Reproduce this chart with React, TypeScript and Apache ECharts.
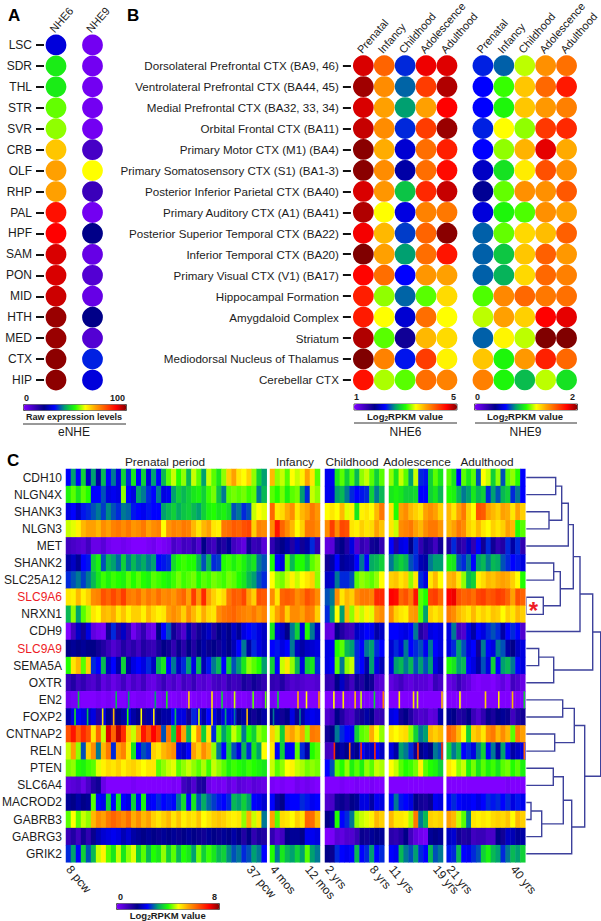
import React, { useEffect, useRef } from "react";
import * as echarts from "echarts";

const FONT = "Liberation Sans";
const INK = "#1c1c1c";

// Shared colour scale of the four colour bars (equal steps from low to high)
const scaleColors = ["#8000ff", "#4000c0", "#000088", "#0000ff", "#00a070", "#20ff00", "#ffff00", "#ffa000", "#ff5000", "#ff0000", "#800000"];

// Panel A
const aRegions = ["LSC", "SDR", "THL", "STR", "SVR", "CRB", "OLF", "RHP", "PAL", "HPF", "SAM", "PON", "MID", "HTH", "MED", "CTX", "HIP"];
const aColumns = ["NHE6", "NHE9"];
const aNhe6 = [27, 48, 48, 53, 55, 66, 70, 70, 88, 90, 93, 93, 94, 98, 98, 99, 99];
const aNhe9 = [2, 2, 2, 2, 2, 9, 60, 11, 2, 20, 4, 7, 4, 20, 7, 32, 27];

// Panel B
const bRegions = [
  "Dorsolateral Prefrontal CTX (BA9, 46)", "Ventrolateral Prefrontal CTX (BA44, 45)", "Medial Prefrontal CTX (BA32, 33, 34)",
  "Orbital Frontal CTX (BA11)", "Primary Motor CTX (M1) (BA4)", "Primary Somatosensory CTX (S1) (BA1-3)",
  "Posterior Inferior Parietal CTX (BA40)", "Primary Auditory CTX (A1) (BA41)", "Posterior Superior Temporal CTX (BA22)",
  "Inferior Temporal CTX (BA20)", "Primary Visual CTX (V1) (BA17)", "Hippocampal Formation", "Amygdaloid Complex",
  "Striatum", "Mediodorsal Nucleus of Thalamus", "Cerebellar CTX",
];
const bStages = ["Prenatal", "Infancy", "Childhood", "Adolescence", "Adulthood"];
const bNhe6 = [
  [4.72, 4.1, 2.3, 4.65, 4.7], [4.9, 3.9, 2.45, 4.3, 4.85], [4.72, 3.8, 2.6, 3.8, 4.6], [4.78, 3.9, 2.3, 4.3, 4.92],
  [4.97, 3.75, 2.05, 4.05, 4.45], [4.97, 3.9, 1.9, 4.05, 4.55], [4.72, 3.85, 2.75, 4.4, 4.78], [4.85, 3.4, 2.1, 3.95, 4.0],
  [4.63, 3.7, 2.35, 4.1, 4.97], [5, 3.8, 2.6, 4.05, 4.5], [4.58, 4.05, 2.2, 3.85, 3.8], [4.45, 3.2, 2.45, 3.1, 3.55],
  [4.47, 3.4, 2.05, 4.05, 3.4], [4.85, 3.1, 1.7, 3.7, 3.55], [5, 3.95, 2.25, 4.3, 3.45], [4.52, 3.25, 3.1, 4.05, 3.95],
];
const bNhe9 = [
  [0.64, 0.72, 1.14, 1.44, 1.52], [0.6, 1.02, 1.32, 1.54, 1.74], [0.6, 0.98, 1.32, 1.42, 1.48], [0.64, 1.2, 1.1, 1.66, 1.7],
  [0.6, 1.1, 1.36, 1.84, 1.38], [0.5, 0.94, 1.24, 1.6, 1.44], [0.42, 1.06, 1.44, 1.44, 1.58], [0.54, 0.98, 1.04, 1.44, 1.4],
  [0.72, 1.06, 1.28, 1.34, 1.56], [0.72, 0.88, 1.32, 1.56, 1.42], [0.72, 0.84, 1.28, 1.54, 1.48], [1.04, 1.46, 1.54, 1.5, 1.52],
  [1.14, 1.4, 1.3, 1.8, 1.84], [0.72, 1.22, 1.14, 2, 2], [1.32, 0.98, 1.42, 1.72, 1.54], [1.48, 0.98, 0.86, 1.14, 0.94],
];

// Panel C: one array per gene; columns run through the five periods in order
const periodNames = ["Prenatal period", "Infancy", "Childhood", "Adolescence", "Adulthood"];
const periodColumns = [40, 10, 12, 11, 16];
const periodTicks: Record<number, string>[] = [
  { 0: "8 pcw", 36: "37 pcw" }, { 0: "4 mos", 7: "12 mos" }, { 0: "2 yrs", 9: "8 yrs" }, { 0: "11 yrs", 9: "19 yrs" }, { 0: "21 yrs", 13: "40 yrs" },
];
const CDH10 = [2.4,3.2,2.4,3.6,2,3.2,1.8,3.4,2.4,3,2.2,3.6,2.6,3.8,2.4,3.6,2.2,3.2,2.4,3.4,4.2,4.6,4,4.4,3.4,4.6,4.2,3.2,4.6,4.2,3.8,4.4,5.2,5.6,5,4.8,5.2,4.4,3.6,3.2, 5.4,4.4,4.6,4.2,4.8,4.6,4.9,5.6,5,4.2, 2.3,2.3,3.8,4.2,3.6,4.2,3.4,4.4,4.6,4.2,3.6,4.2, 4.4,3.8,4.6,4.2,3.2,4.6,2.6,2.5,3.6,4.2,3.8, 4.2,3.8,2.4,4.2,3.8,4.2,2.8,4.8,4.6,3.6,4.4,2.8,4.2,4.4,4,2.4];
const NLGN4X = [3.9,4.2,3.8,4.2,4,2.4,2.4,2.8,2.2,2.3,2.2,4.4,2.4,2.2,3.2,3,2.6,2.4,3,2.2,2.3,3.2,3.6,3.4,3.6,3.8,3.9,3.6,4.1,4.3,3.5,3,4.2,4.3,4.2,4.3,4.1,4.2,3,3.4, 4.2,4,4.3,3.9,4.2,4.3,3.2,2.6,4.6,4.4, 2.3,2.2,3.2,3.4,3,2.6,2.4,2.5,2.6,3.6,3,3.4, 3.8,3.9,3.8,3.6,3.6,3.7,2.4,2.4,3.6,3.8,3.4, 4,3.9,3.4,3,3.2,3.8,3.4,3.6,2.6,3.2,2.8,3.4,3.6,2.6,3,2.4];
const SHANK3 = [2.2,2.4,2,2.5,2.6,2.8,3,2.7,3.1,2.8,2.6,3,2.9,2.5,2.4,2.3,2.5,2.4,2.4,3.2,3.4,3.6,3.3,3.5,3.6,3.4,3.2,3.6,3.9,4,3.8,3.9,3.7,2.8,3,2.6,2.8,4.6,4.8,4.7, 6.2,5,5.1,5.5,5.8,5,5.4,5.6,6,5.7, 4.8,5,4.8,5.4,4.7,4.9,3.8,4.9,5,4.8,5.4,6, 5,4,5.6,5.8,5.4,5.2,5,5.6,5.8,5.6,5.2, 5.4,5,5.6,6,5.2,4.8,6.4,6.3,5.6,5.4,5.2,5.6,5.5,5,5.6,5.2];
const NLGN3 = [4.6,4.7,4.9,5.4,5.6,5.6,5.4,5.8,5.6,5.9,6,5.8,6,5.7,5.8,6,5.6,5.8,5.9,4.8,5.7,5.9,5.8,6,5.9,5.4,5,5.4,5.6,5,4.9,6,6.1,6.3,6.2,6.4,6.5,5.2,5.9,5.8, 5.8,7,6.2,5.8,5.4,4.8,5.2,6,6,5.8, 5.8,6.6,5.8,6.5,6.4,5,4.9,5.2,5,5.1,5.6,5.3, 5,4.6,5.8,5.9,6,5.6,5.4,5.8,6,6,5.7, 5.4,5.6,6,5.8,5.2,5,5.4,5,4.8,5.2,5,5.2,5.6,5.4,4,4.2];
const MET = [0.8,0.7,0.6,0.5,0.8,0.3,0.3,0.5,0.2,0.1,0.1,0.2,0.1,0,0,0,0.1,0.2,0,0.1,0.2,0.7,0.5,0.8,0.7,1,0.6,1.6,1,0.8,1.4,1.2,1.7,0.8,0.6,0.4,1.4,0.9,1,0.5, 1,1.4,1.6,1.8,1.2,2,1.4,1.8,2.6,1, 0.4,0.5,1.4,1.6,1.2,2.2,0.6,1,0.8,1.4,1.5,1, 2.4,1.2,2.2,2.3,1.6,2.6,1,1.4,1.2,0.8,1.4, 1.2,2.6,1.2,1,2,1,2.4,1.4,2.6,1.4,1,1.2,2.6,1.8,2.6,1];
const SHANK2 = [1.8,2,1.7,2.4,2.5,3.6,3.9,2.8,3.4,3.2,2.9,3.6,3,3.4,3.1,3.3,3,3.2,2.4,2.5,2.6,3.7,4,4.1,4,4,3.4,2.8,3.4,2.6,2.7,4,4.1,3.9,4.1,3.9,3.6,3.8,3,2.8, 4,2.4,2.2,4.2,3.4,4,4,3.6,4.2,4.4, 1.4,1.8,2.4,1.7,1.8,1.9,2.4,3,2.4,3.3,3.4,3.6, 3,3.4,3.6,3.4,2.8,2.6,1.9,1.8,3,3.2,3.2, 3.9,3.8,2.8,2.6,3,2.4,3.2,3.4,3,3.4,3.3,2.8,2.6,2.4,2.5,2.2];
const SLC25A12 = [2.6,2.8,3,2.7,3,3.4,3.8,4.1,3.9,4.1,4,3.9,4.2,4,4.2,4,3.9,4.2,4.1,4,3.9,4.1,4.3,4.1,4.2,4.3,4,4.2,4.1,4.3,4.2,4.1,4.3,4.2,4,3.8,3.4,3.2,2.8,2.6, 4.8,4.4,4.3,4.6,4.9,4.6,4.8,5,5.2,4.4, 2,2.1,3,2.6,2.6,2.8,4.2,4.4,4.3,4.2,4.4,4.8, 5.2,5.3,5,5.2,4.4,5,2.6,2.2,5,5.4,4.8, 5.4,5.5,5,4.4,3.4,3.6,4.9,5.1,5.4,5.3,5.5,5.6,5.5,5.2,4.8,4];
const SLC9A6 = [5,4.9,5.4,4.9,5.2,5.8,5.9,6.4,6.2,6.5,6.2,6.6,6,5.9,6.1,5.7,6,5.8,6.1,5.8,5.9,5.7,6,6.2,5.6,6.6,5.7,6.8,5.6,5.2,4.9,5.1,6,6.3,6.2,6.5,5.6,5.2,6.4,6.3, 5.8,5,6.2,6.3,6.2,5.8,6,6.4,6.2,5.8, 2.8,3,5.8,5,5.4,5.2,5.8,6,6,5.9,6.8,6.8, 7.2,7.1,6.2,6.4,6,7,4.2,4,6.5,6.6,6.2, 7.2,7.3,6.4,6.2,6.3,6.1,6.5,6.6,6.3,6.4,6.6,6.5,6.2,5.6,6.4,6.2];
const NRXN1 = [3.4,4.4,3.2,4.2,4.5,5,4.8,5.4,5.3,5.5,5,5.3,4.9,5.2,5.2,4.9,5.4,5.1,4.9,5,5.6,5.8,5.6,5.2,5.8,5.4,5,5.5,5.1,5,5.8,6,6.1,6.2,6,5.9,5.8,6,5.7,5.9, 5,5.6,6,5.2,5.8,5.8,5.6,6,5.9,5.2, 2.6,3.2,4.8,3.2,5.4,4.4,5,4.6,4.9,4.7,5.6,5.8, 5.8,5.2,5,4.9,5.6,5.7,4.2,3.2,5.2,5,5.2, 6,5.8,5.4,5.2,5,5.4,5,5.2,5,5.3,5.2,4.8,5.2,5,5.4,5.2];
const CDH9 = [0,0.8,2,1.4,2.2,0.4,0.2,0.1,1.4,2.6,1.2,2,1,0.2,0.6,1,0.4,0.2,1.6,2.4,2.8,1.4,1,0.6,1.8,1,1.4,1.8,2,1.2,1.6,1.8,1.6,2,1.7,2.2,2.4,2.5,2.2,2, 3.8,2.2,2,1.6,3,3.6,2.2,4,3,2, 0.4,0.3,1.6,1.2,0.9,0.8,2,2.2,2.4,2.3,1.8,2, 2.4,2.4,2.3,2.2,2.4,3,1.2,0.9,2.2,2.3,2.2, 2.2,3,0.8,0.6,2.2,1.8,2.4,2.2,2.6,2.8,2.6,1.8,2.4,2.6,2.4,0.6];
const SLC9A9 = [1.6,1.7,1.6,1.7,1.6,1.6,1.4,1.2,0.9,0.6,0.8,1.2,0.9,1.1,0.8,1.2,1,0.9,1.3,1.6,1.4,1,1.5,1.1,1.6,1.2,1.6,1.8,1.5,1.6,1.4,1.8,1.6,1.9,2.4,3,1.8,2.6,2.2,2, 2.4,2.5,2.2,2.4,3,2,1.8,2,2.1,2.2, 2.2,2.3,4,4.2,3.4,3.2,2.6,2.4,3,3.2,2.6,2.4, 2.1,2.6,2.2,3,2.4,2.6,2.8,2.3,3,2.4,2.2, 2.2,2.6,3.2,2.8,2.2,2.4,1.4,3,2.4,2.2,3,2.8,1.8,1.6,2,2.2];
const SEMA5A = [4,5,5.4,4.2,5.2,2.6,2.4,3.4,2,2.4,1.8,3.6,1.8,2.2,2.4,2.2,2.6,2,3.4,3.8,2.4,3,2,2.6,3.2,2.2,3.4,1.9,2.5,3,3.4,2.4,3.6,2.8,3.2,3.8,4.4,4.2,4,3.2, 3.6,2.4,4.6,5,4.4,3.4,2.2,3.6,3.8,2.6, 2.2,2.4,4.2,3,4.4,4.6,2.6,2.4,1.8,3.2,2.2,1.9, 2.2,3.2,3.4,3,3.4,2.8,3.2,2.8,3.2,2.2,1.9, 4,3.8,3.2,3.4,2.4,2.2,1.8,2.8,2.2,3.6,2.4,3.2,3.4,3,2.4,2.2];
const OXTR = [0.9,1.2,0.8,1,0.7,0.6,0.9,0.4,0.6,0.3,0.5,0.8,0.4,0.7,0.5,0.8,0.4,0.3,0.6,0.9,0.5,0.7,0.4,0.8,0.6,0.9,0.5,0.6,0.4,0.7,0.8,0.6,1,0.8,0.9,1.3,1.1,1.4,1.2,1, 1,0.9,1.2,0.8,0.6,0.7,0.6,0.5,0.5,0.6, 1,0.9,1.6,2,1.2,0.8,1.4,1.2,1.6,1.4,0.6,0.5, 0.4,0.6,0.8,0.5,0.4,0.6,0.5,0.5,0.3,0.9,0.7, 0.3,0.5,0.9,0.6,0.4,0.1,0,0.1,0.1,0,0.2,0.4,0.1,0.8,0.6,0.3];
const EN2 = [0.2,0.1,0.1,0,0,0,0.1,0,0.1,0,0,0,0.1,0,0.1,0.1,0,0,0,0.1,0,0,0.1,0,0,0,0.1,0,0.1,0,0,0,0.1,0,0,0,0.1,0,0,0.2, 0.1,0,0,0,0,0,0,0,0,0, 0,0,0,0,0,0,0,0,0,0,0,0, 0,0,0,0,0,0,0,0,0,0,0, 0,0,0,0,0,0,0,0,0,0,0,0,0,0,0,0];
const FOXP2 = [1.8,2.2,2.4,2.2,2,2.2,1.2,2.2,1.6,1.4,1.6,1.8,2.2,1.8,1.6,1.4,1.8,2,1.6,1.8,1.8,2.4,2.2,2.2,1.4,2.6,2.2,1.8,2.4,2.2,1.8,2.2,2.2,2.2,1.6,1.8,1.6,1.4,1.6,1.8, 1.6,1.8,1.4,1.6,2.2,1.5,1.8,2.2,2.3,2.2, 0.6,0.8,1.6,1.2,0.8,0.7,1.2,1.4,1.8,1.6,0.9,1, 2.2,2.3,1.4,1.6,1.2,0.8,0.6,0.7,0.4,0.5,1.8, 1.7,1.6,1.2,1.3,1.6,0.9,0.6,1,1.5,1.3,1.6,1.7,1.5,0.8,1.2,1.4];
const CNTNAP2 = [6.4,7,6.2,6.8,6.4,5,6.2,4.6,7.4,6.2,7.6,6.8,5.2,4.6,5.6,7,6.4,7.2,6.6,2.8,6,3.6,7,5.6,3.4,4.8,5.8,3.6,5,2.6,4.2,3.2,3.8,4.6,4.2,3,4,3.6,4.4,4.2, 5.2,4.6,3.6,5.4,5.6,5.2,5.6,4.4,6,5.9, 1.4,1.6,3,2.6,2.4,2.3,3.6,4.2,4.3,5.5,4.8,4.4, 5,4.8,5,5.1,4.4,3.6,3,3.2,5.4,5.2,5.4, 6.2,6,5.4,4.8,3.6,5.2,5.4,5,5.8,6,5.4,5.8,5.4,4.2,6,5.6];
const RELN = [4.6,5.6,4.4,2.8,5.2,5.8,3,5.4,6,2.6,5.6,5.9,5,3.8,2.4,2.8,2.6,5.2,5,5.4,5.6,5.8,2.2,2,2.4,5.6,5.2,5.8,5.4,4.4,3,2.4,3.6,2.8,2.2,3.4,2.6,3.8,3.2,4.8, 5,2.4,3.6,2.3,2.4,4.2,2.6,1.8,4,4.2, 0.8,0.7,1.6,1.8,1.6,1.8,1.6,2.4,2,2,2.4,2, 2.2,1.8,3.2,3,2.6,1.4,1.6,1.8,1.6,3,2.8, 3.6,3,3.4,2.4,2.6,2.2,3,3.6,2.4,3,1.8,3.2,2.4,1.8,2,2.2];
const PTEN = [4.3,4.4,4,3.9,4.1,4.2,4.7,4.9,5.1,5,5.2,4.9,5.1,5.2,5,4.8,5,5,4.2,4.4,4.6,4.7,4.2,4.4,4.6,4.4,4.2,4.5,4.1,4.6,4.4,4.2,3.9,4.1,4,3.9,4.1,4,3.9,3.8, 4.6,4.2,4.4,4.8,4.9,4.6,4.5,4.3,4.4,4.3, 2.4,2.8,4.2,4,4.4,3.9,4.2,3.9,4.4,4.2,4.6,4.5, 4.8,4.6,4.2,4,4.1,4.3,4.9,4.2,4,3.9,3.6, 5,4.8,4.4,4.6,3.9,4.3,3.8,4.2,3.9,4.1,3.8,4.2,4.3,4,4.2,3.9];
const SLC6A4 = [0.4,0.5,0.6,0.3,0.7,1.2,1.4,0.3,0,0,0,0,0,0.1,0,0,0,0,0,0,0,0.1,0,0.8,1,0.6,1.2,1.3,0.3,0.1,0.2,0.1,0.4,0.2,0.5,0.4,0.3,0.5,0.4,0.3, 0.1,0,0.1,0,0,0.2,0.1,0.2,0.1,0, 0,0,0,0.1,0,0,0.1,0,0,0.1,0,0, 0,0,0,0,0,0,0,0,0,0,0, 0,0,0,0,0,0,0,0,0,0,0,0,0.1,0,0,0];
const MACROD2 = [1.7,1.6,1.8,1.6,1.7,4.2,2.4,2.3,3.6,2.4,3.8,2.4,2.2,3.6,2.4,3.9,2.3,2.4,2.6,2.4,2.5,2.4,3,3.7,2.4,3.8,2.8,3.3,2.9,2.7,2.5,2.4,2.6,3.4,3.2,3.6,3.2,2.4,2.3,2.1, 2.4,1.8,1.6,2.3,2.4,2.4,2.6,2.5,2.3,2.4, 0.6,0.7,1.4,1.5,1.3,1.6,1.7,2.2,2.2,1.8,2.3,2.2, 2.4,3,2.5,2.4,2.2,1.6,1.4,1.3,1.5,2.3,2.2, 2.4,2.6,2.4,2.3,2.3,2.4,2.2,2.4,2.6,2.5,2.6,2.4,2.6,2.2,2.5,2.3];
const GABRB3 = [4.2,4.8,4.2,4.6,4.4,5.4,5.8,5.6,6,6.2,6,5.8,6.1,5.5,5.8,5.4,5.6,5.2,5,5.2,5.4,5,5.3,4.9,5.1,5,5.3,4.8,5,5.2,5.3,5.2,5,4.9,5,4.4,5.5,4.6,5,3, 5.6,4.2,5.1,5,4.8,5.2,5,6.2,6.1,5.4, 1.6,1.8,4,2.4,2.6,3,4.4,4.6,4.7,4.9,5.4,5.2, 5.4,5,5,4.9,4.5,6,3,3.4,5.2,5.1,5.2, 5.6,5.4,4.6,4.2,3,5,4.9,5,4.9,5.1,5.2,5.1,5.3,4.8,5.4,5.2];
const GABRG3 = [0.9,1.2,0.8,1.4,1,1.5,1.9,2.1,2.2,2.3,2.2,1.9,2.1,1.8,1.7,1.6,1.7,1.6,1.5,1.7,1.6,1.7,1.5,1.6,1.7,1.6,1.5,1.4,1.7,1.6,1.5,1.7,1.6,1.8,1.6,1.2,1.6,1,1.3,1.2, 1,0.6,0.8,1.6,1.7,1.7,1.6,2.3,2.3,2.2, 0,0.1,0.5,0.4,0.6,0.6,0.9,1.5,1.4,1.7,1.6,1.7, 1.1,1,1.2,1.6,0.8,0.4,0.2,0.1,1.7,1.6,1.7, 2,2.1,1.4,1.2,1.3,0.8,0.9,0.9,0.7,0.7,1.6,1.4,2,1.9,1.7,1.8];
const GRIK2 = [2.6,3.2,2.4,3.6,2.8,3.4,4.6,4.9,4.2,3.8,4.6,3.8,4.4,4.7,3.6,4.2,3.4,4,3.8,4.4,3.6,4.2,3.4,4,3.8,3.2,4.3,3.6,4.1,3.8,3.4,3.6,3.1,2.8,3,2.6,2.8,3.2,3,2.4, 4,3,3.8,3.4,3.2,3.6,3.2,4.2,3.2,3, 1.6,1.5,2.6,2.4,2.3,2.4,3.4,2.4,2.6,3.2,2.4,2.6, 2.4,2.3,3.4,3,2.8,3.2,2.6,2.4,3.4,2.8,3, 2.5,2.6,3.4,2.4,2.3,2.6,2.8,3.6,3.9,3.4,3.2,2.6,3,3.4,3.2,3.6];

const geneNames = ["CDH10", "NLGN4X", "SHANK3", "NLGN3", "MET", "SHANK2", "SLC25A12", "SLC9A6", "NRXN1", "CDH9", "SLC9A9", "SEMA5A", "OXTR", "EN2", "FOXP2", "CNTNAP2", "RELN", "PTEN", "SLC6A4", "MACROD2", "GABRB3", "GABRG3", "GRIK2"];
const geneRows = [CDH10, NLGN4X, SHANK3, NLGN3, MET, SHANK2, SLC25A12, SLC9A6, NRXN1, CDH9, SLC9A9, SEMA5A, OXTR, EN2, FOXP2, CNTNAP2, RELN, PTEN, SLC6A4, MACROD2, GABRB3, GABRG3, GRIK2];
const highlightedGenes = ["SLC9A6", "SLC9A9"];

// Single samples narrower than a column: [period, column position, gene row, value]
const en2Samples = [
  [0,2.5,13,3.5],[0,10,13,3.4],[0,12.5,13,3.2],[0,17.8,13,3.2],[0,20.1,13,3.8],[0,24.5,13,5.2],[0,29.1,13,5],[0,31.1,13,3.6],[0,33.6,13,4.6],[0,37.3,13,4.2],[0,39.8,13,4.2],
  [1,1.6,13,3.6],[1,5.6,13,5.4],[1,7.3,13,4.8],[1,9.8,13,5.8],
  [2,1.8,13,4.8],[2,3.7,13,5],[2,6.1,13,5.4],[2,7.3,13,4.6],[2,10,13,3.6],[2,11.8,13,6],
  [3,2.1,13,5],[3,5,13,5],[3,5.8,13,4.6],[3,10.8,13,5.4],
  [4,2.7,13,4.8],[4,7.9,13,5.2],[4,10.6,13,5],[4,13.4,13,5.4],[4,15.8,13,3.6],
];
const foxp2Samples = [
  [0,1.8,14,3.8],[0,4.3,14,3.4],[0,7.3,14,5],[0,9.5,14,5.4],[0,12.3,14,4],[0,15,14,4.8],[0,17.5,14,5],[0,21.8,14,3.4],[0,26.5,14,4.6],[0,29.1,14,5],[0,31.8,14,3.2],[0,33.6,14,3],[0,36.1,14,5.4],
  [1,0.7,14,3],[1,6,14,3],
];
const relnSamples = [
  [2,1.9,16,6.8],[2,5,16,6.2],[2,7.3,16,6.8],[2,10.1,16,6.8],[3,5.9,16,6.6],[3,10.8,16,6.8],[4,15.8,16,6.2],
];
const thinSamples = [...en2Samples, ...foxp2Samples, ...relnSamples];

// Dendrogram merges: [child, child, height]; ids 0-22 are genes, 23+ are earlier merges
const dendroMerges: [number, number, number][] = [
  [0, 1, 29.4], [2, 3, 22.7], [23, 24, 35.4], [25, 4, 42], [5, 6, 27.4], [7, 8, 17], [27, 28, 34], [26, 29, 47], [30, 9, 53.7],
  [10, 11, 12.4], [32, 12, 27.4], [31, 33, 66.4],
  [13, 14, 36.4], [15, 16, 28.4], [35, 36, 48], [17, 18, 27], [19, 20, 4.7], [39, 21, 15.4], [38, 40, 37], [41, 22, 45.4], [37, 42, 58.4],
  [34, 43, 74.4],
];

function label(x: number, y: number, text: string, size = 12, weight = "normal", align = "center", fill = INK) {
  return { type: "text", x, y, silent: true, z: 20, style: { text, fontFamily: FONT, fontSize: size, fontWeight: weight, fill, align, verticalAlign: "middle" } };
}
function log2Label(x: number, y: number) {
  const bold = { fontFamily: FONT, fontWeight: "bold", fontSize: 9.5, fill: INK };
  return {
    type: "text", x, y, silent: true, z: 20,
    style: {
      text: "{a|Log}{b|2}{a|RPKM value}", align: "center", verticalAlign: "middle",
      rich: { a: bold, b: { ...bold, fontSize: 6.5, verticalAlign: "bottom", padding: [4, 0, 0, 0] } },
    },
  };
}
function rule(x1: number, x2: number, y: number) {
  return { type: "line", silent: true, z: 20, shape: { x1, y1: y, x2, y2: y }, style: { stroke: "#333", lineWidth: 1 } };
}
function colorBar(seriesIndex: number[], min: number, max: number, left: number, top: number) {
  return {
    type: "continuous", seriesIndex, dimension: 2, min, max, orient: "horizontal", left, top,
    itemWidth: 6, itemHeight: 103, padding: 0, calculable: false, hoverLink: false, text: null, borderColor: "#555", borderWidth: 1,
    inRange: { color: scaleColors },
  };
}
const hiddenAxis = { axisLine: { show: false }, axisTick: { show: false }, axisLabel: { show: false }, splitLine: { show: false } };
const tickStyle = { show: true, length: 8, alignWithLabel: true, lineStyle: { color: "#111", width: 2 } };
const topLabel = { show: true, interval: 0, rotate: -49, margin: 0, align: "left", verticalAlign: "bottom", fontFamily: FONT, fontSize: 11, color: INK };

function buildOption() {
  const grid: any[] = [], xAxis: any[] = [], yAxis: any[] = [], series: any[] = [];
  const add = (g: any, x: any, y: any) => {
    grid.push({ containLabel: false, outerBoundsMode: "none", ...g });
    xAxis.push({ gridIndex: grid.length - 1, ...x });
    yAxis.push({ gridIndex: grid.length - 1, ...y });
    return grid.length - 1;
  };
  const dots = (gi: number, rows: number[][]) =>
    series.push({
      type: "scatter", xAxisIndex: gi, yAxisIndex: gi, symbolSize: 20.8, silent: true, itemStyle: { opacity: 1 },
      data: rows.flatMap((r, y) => r.map((v, x) => [x, y, v])),
    });

  // Panel A
  const gA = add(
    { left: 37.75, top: 34.5, width: 73, height: 356 },
    { type: "category", data: aColumns, position: "top", ...hiddenAxis, axisLabel: topLabel },
    { type: "category", data: aRegions, inverse: true, offset: -6.25, axisLine: { show: false }, axisTick: tickStyle, splitLine: { show: false },
      axisLabel: { interval: 0, margin: 12, fontFamily: FONT, fontSize: 12, color: INK } }
  );
  dots(gA, aRegions.map((_, i) => [aNhe6[i], aNhe9[i]]));

  // Panel B
  const gB6 = add(
    { left: 352.9, top: 55.2, width: 104.5, height: 335.2 },
    { type: "category", data: bStages, position: "top", ...hiddenAxis, axisLabel: topLabel },
    { type: "category", data: bRegions, inverse: true, offset: 2, axisLine: { show: false }, axisTick: tickStyle, splitLine: { show: false },
      axisLabel: { interval: 0, margin: 12, fontFamily: FONT, fontSize: 11.6, color: INK } }
  );
  dots(gB6, bNhe6);
  const gB9 = add(
    { left: 472.5, top: 55.2, width: 104.5, height: 335.2 },
    { type: "category", data: bStages, position: "top", ...hiddenAxis, axisLabel: topLabel },
    { type: "category", data: bRegions, inverse: true, ...hiddenAxis }
  );
  dots(gB9, bNhe9);

  // Panel C
  const lefts = [66, 270, 325, 389, 446.7];
  const rights = [266.7, 320, 384.3, 443, 525.3];
  const heatSeries: number[] = [];
  let start = 0;
  periodColumns.forEach((count, p) => {
    const ticks = periodTicks[p];
    const g = add(
      { left: lefts[p], top: 469, width: rights[p] - lefts[p], height: 393.3 },
      { type: "category", data: Array.from({ length: count }, (_, i) => String(i)), ...hiddenAxis,
        axisLabel: { show: true, interval: (i: number) => ticks[i] !== undefined, formatter: (_: string, i: number) => ticks[i] ?? "", rotate: -50, margin: 5, fontFamily: FONT, fontSize: 12, color: INK, hideOverlap: false } },
      p === 0
        ? { type: "category", data: geneNames, inverse: true, axisLine: { show: false }, axisTick: { show: false }, splitLine: { show: false },
            axisLabel: { interval: 0, margin: 4, fontFamily: FONT, fontSize: 12, color: (v: string) => (highlightedGenes.includes(v) ? "#ee1c25" : INK) } }
        : { type: "category", data: geneNames, inverse: true, ...hiddenAxis }
    );
    const from = start;
    heatSeries.push(series.length);
    series.push({
      type: "heatmap", xAxisIndex: g, yAxisIndex: g, silent: true, progressive: 0, itemStyle: { borderWidth: 0 },
      data: geneRows.flatMap((row, y) => row.slice(from, from + count).map((v, x) => [x, y, v])),
    });
    // samples narrower than a column
    heatSeries.push(series.length);
    series.push({
      type: "custom", xAxisIndex: g, yAxisIndex: g, coordinateSystem: "cartesian2d", silent: true, z: 3,
      data: thinSamples.filter((s) => s[0] === p).map((s) => [Math.floor(s[1]), s[2], s[3], s[1] - Math.floor(s[1])]),
      encode: { x: 0, y: 1 },
      renderItem: (_: any, api: any) => {
        const c = api.coord([api.value(0), api.value(1)]);
        const size = api.size([1, 1]);
        return {
          type: "rect",
          shape: { x: c[0] + (api.value(3) - 0.5) * size[0] - 0.8, y: c[1] - size[1] / 2, width: 1.6, height: size[1] },
          style: { fill: api.visual("color") },
        };
      },
    });
    start += count;
  });

  // Dendrogram
  const gD = add(
    { left: 526.3, top: 469, width: 74.4, height: 393.3 },
    { type: "value", min: 0, max: 74.4, ...hiddenAxis },
    { type: "value", min: -0.5, max: 22.5, inverse: true, ...hiddenAxis }
  );
  const nodes: { h: number; y: number }[] = geneNames.map((_, i) => ({ h: 0, y: i }));
  const links = dendroMerges.map(([a, b, h]) => {
    const na = nodes[a], nb = nodes[b];
    nodes.push({ h, y: (na.y + nb.y) / 2 });
    return [na.h, na.y, h, nb.y, nb.h];
  });
  series.push({
    type: "custom", xAxisIndex: gD, yAxisIndex: gD, coordinateSystem: "cartesian2d", silent: true, clip: false,
    data: links, encode: { x: [0, 2], y: [1, 3] },
    renderItem: (_: any, api: any) => {
      const [ha, ya, h, yb, hb] = [0, 1, 2, 3, 4].map((d) => api.value(d));
      const pts = [api.coord([ha, ya]), api.coord([h, ya]), api.coord([h, yb]), api.coord([hb, yb])];
      return { type: "polyline", shape: { points: pts }, style: { stroke: "#3d419c", lineWidth: 1.4, fill: "none" } };
    },
  });

  const graphic = [
    label(8, 15, "A", 17, "bold", "left", "#000"),
    label(127, 15, "B", 17, "bold", "left", "#000"),
    label(7, 460, "C", 17, "bold", "left", "#000"),
    // colour-bar captions
    label(24, 397.5, "0", 9, "bold", "left"), label(125, 397.5, "100", 9, "bold", "right"),
    label(74, 417, "Raw expression levels", 9, "bold"), rule(23, 126, 424), label(74, 432, "eNHE", 12),
    label(354, 397, "1", 9, "bold", "left"), label(456, 397, "5", 9, "bold", "right"),
    log2Label(405, 416), rule(354, 457, 423), label(405.5, 431.5, "NHE6", 12),
    label(475, 397, "0", 9, "bold", "left"), label(575, 397, "2", 9, "bold", "right"),
    log2Label(525, 416), rule(475, 577, 423), label(525.5, 431.5, "NHE9", 12),
    label(118, 897, "0", 9, "bold", "left"), label(217, 897, "8", 9, "bold", "right"),
    log2Label(167.7, 915.5),
    // period headings
    ...periodNames.map((n, i) => label([165, 295, 352, 417, 487][i], 462, n, 11.8)),
    // starred branch
    { type: "line", silent: true, z: 19, shape: { x1: 526.5, y1: 598, x2: 526.5, y2: 615 }, style: { stroke: "#9a9ccc", lineWidth: 1 } },
    { type: "text", silent: true, z: 20, x: 533.5, y: 610, style: { text: "*", fontFamily: FONT, fontSize: 24, fontWeight: "bold", fill: "#ee1c25", align: "center", verticalAlign: "middle" } },
  ];

  return {
    animation: false,
    backgroundColor: "#fff",
    grid, xAxis, yAxis, series, graphic,
    visualMap: [
      colorBar([0], 0, 100, 23, 404),
      colorBar([1], 1, 5, 353.5, 403.5),
      colorBar([2], 0, 2, 474, 403.5),
      colorBar(heatSeries, 0, 8, 116, 903),
    ],
  };
}

export default function App() {
  const ref = useRef<HTMLDivElement>(null);
  useEffect(() => {
    const chart = echarts.init(ref.current!, undefined, { renderer: "svg" });
    chart.setOption(buildOption() as any);
    return () => chart.dispose();
  }, []);
  return <div ref={ref} style={{ position: "fixed", left: 0, top: 0, width: 601, height: 921, overflow: "hidden" }} />;
}
